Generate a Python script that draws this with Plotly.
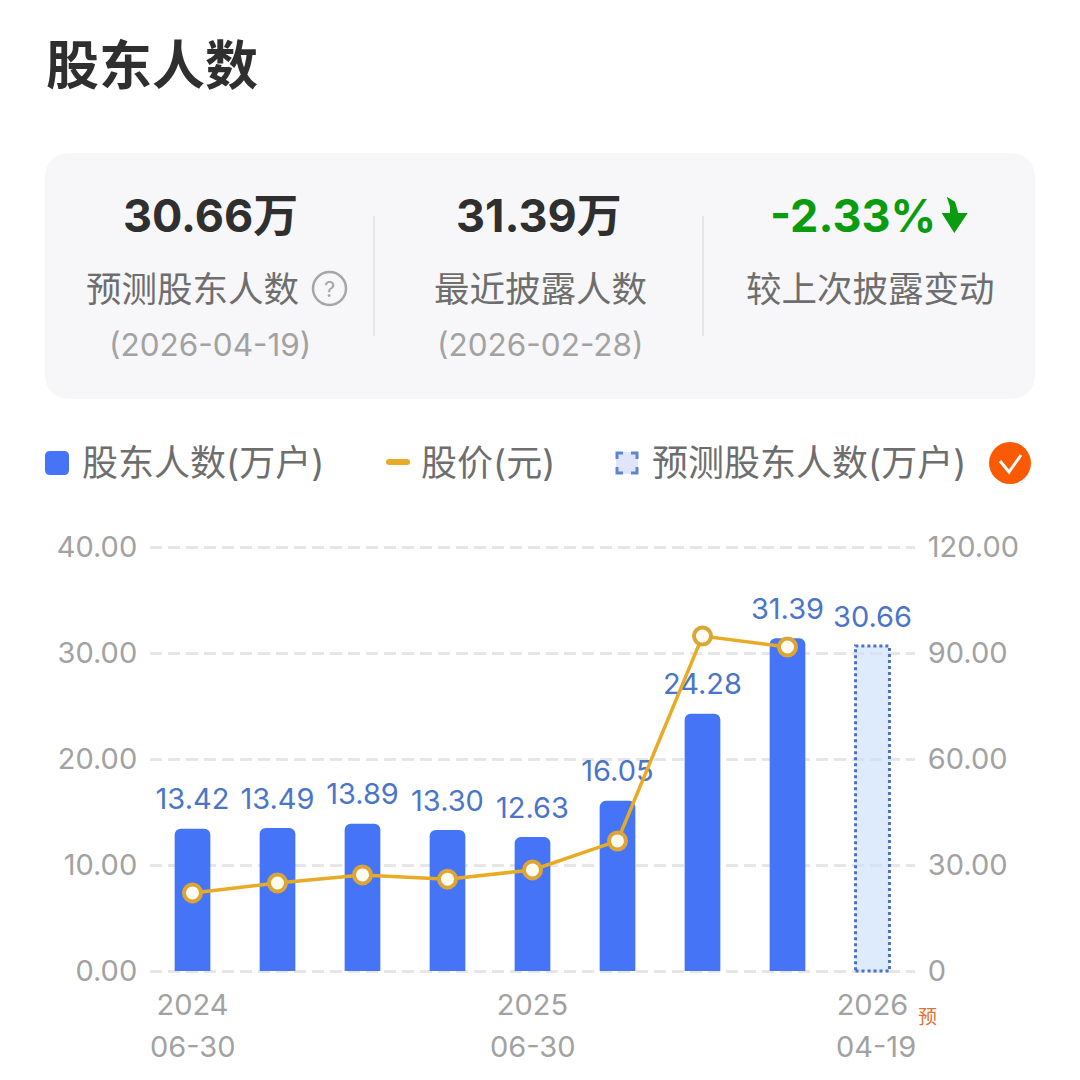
import plotly.graph_objects as go

# ---------- data ----------
dates = ["2024-06-30", "2024-09-30", "2024-12-31", "2025-03-31", "2025-06-30",
         "2025-09-30", "2025-12-31", "2026-02-28", "2026-04-19"]
holders = [13.42, 13.49, 13.89, 13.30, 12.63, 16.05, 24.28, 31.39]
forecast = [30.66]
price = [22.1, 24.9, 27.2, 26.0, 28.6, 36.8, 94.8, 91.7]
left_ticks = [0, 10, 20, 30, 40]
left_labels = ["0.00", "10.00", "20.00", "30.00", "40.00"]
right_ticks = [0, 30, 60, 90, 120]
right_labels = ["0", "30.00", "60.00", "90.00", "120.00"]
x_tick_idx = [0, 4, 8]
x_years = ["2024", "2025", "2026"]
x_days = ["06-30", "06-30", "04-19"]
title = "股东人数"
stat_values = ["30.66万", "31.39万", "-2.33%"]
stat_names = ["预测股东人数", "最近披露人数", "较上次披露变动"]
stat_dates = ["(2026-04-19)", "(2026-02-28)"]
legend_names = ["股东人数(万户)", "股价(元)", "预测股东人数(万户)"]

# ---------- styling ----------
W = H = 1080
FONT = "Inter, 'Noto Sans CJK SC', sans-serif"
BLUE, LABEL_BLUE, GOLD = "#4674f6", "#4a75c8", "#e8ab25"
GREY, DARK = "#a2a2a2", "#2f2f2f"
MID = "#6e6e6e"
BAR_W = 0.42
# small overscan so the gridlines at both range ends are still drawn
PAD_PX = 3
Y_TOP, Y_BOTTOM = 547, 971
L_MAX, R_MAX = 40, 120
l_pad = PAD_PX * L_MAX / (Y_BOTTOM - Y_TOP)
r_pad = PAD_PX * R_MAX / (Y_BOTTOM - Y_TOP)


def px(x):
    return x / W


def py(y):
    return 1 - y / H


def text(t, x, y, size, color, weight=400, anchor="center"):
    return dict(text=t, x=px(x), y=py(y), xref="paper", yref="paper", showarrow=False,
                xanchor=anchor, yanchor="middle",
                font=dict(family=FONT, size=size, color=color, weight=weight))


def rrect(x0, y0, x1, y1, r, fill):
    path = (f"M{px(x0+r)},{py(y0)} L{px(x1-r)},{py(y0)} Q{px(x1)},{py(y0)} {px(x1)},{py(y0+r)} "
            f"L{px(x1)},{py(y1-r)} Q{px(x1)},{py(y1)} {px(x1-r)},{py(y1)} "
            f"L{px(x0+r)},{py(y1)} Q{px(x0)},{py(y1)} {px(x0)},{py(y1-r)} "
            f"L{px(x0)},{py(y0+r)} Q{px(x0)},{py(y0)} {px(x0+r)},{py(y0)} Z")
    return dict(type="path", path=path, xref="paper", yref="paper", fillcolor=fill,
                line=dict(width=0), layer="below")


def vline(x, y0, y1, color="#e1e1e3", width=1.5):
    return dict(type="line", xref="paper", yref="paper", x0=px(x), x1=px(x), y0=py(y0), y1=py(y1),
                line=dict(color=color, width=width), layer="below")


def poly(points, color, width=0, fill=None, closed=False):
    d = "M" + " L".join(f"{px(a)},{py(b)}" for a, b in points) + (" Z" if closed else "")
    return dict(type="path", path=d, xref="paper", yref="paper",
                fillcolor=fill or "rgba(0,0,0,0)", line=dict(color=color, width=width))


fig = go.Figure()

fig.add_trace(go.Bar(name=legend_names[0], x=dates[:len(holders)], y=holders, width=BAR_W,
                     marker=dict(color=BLUE, cornerradius=6, line=dict(width=0)),
                     showlegend=False, hoverinfo="x+y"))
fig.add_trace(go.Bar(name=legend_names[2], x=dates[len(holders):], y=forecast, width=BAR_W * 0.95,
                     marker=dict(color="rgba(205,224,250,0.65)", cornerradius=5, line=dict(width=0)),
                     showlegend=False, hoverinfo="x+y"))
# value labels sit under the price line
all_values = holders + forecast
fig.add_trace(go.Scatter(x=dates, y=all_values, mode="markers+text", text=[f"{v:.2f}" for v in all_values],
                         textposition="top center", marker=dict(size=18, opacity=0),
                         textfont=dict(family=FONT, size=29, color=LABEL_BLUE),
                         showlegend=False, hoverinfo="skip", cliponaxis=False))
fig.add_trace(go.Scatter(name=legend_names[1], x=dates[:len(price)], y=price, yaxis="y2",
                         mode="lines+markers", line=dict(color=GOLD, width=3.5),
                         marker=dict(size=17, color="#fffdf2", line=dict(color="#dda536", width=4)),
                         showlegend=False, cliponaxis=False))

shapes = [
    rrect(45, 153, 1035, 399, 26, "#f7f7f9"),
    vline(374, 216, 336), vline(703, 216, 336),
    dict(type="circle", xref="paper", yref="paper", x0=px(313), x1=px(346), y0=py(305), y1=py(272),
         line=dict(color="#a6a6a6", width=2.5)),
    # green down arrow
    poly([(946.7, 196.7), (955, 201.7), (958.3, 213), (967.7, 213), (954.3, 233), (941.7, 213),
          (950, 213), (950, 206.7)], "#0a9c0f", 0, "#0a9c0f", True),
    # legend swatches
    rrect(45, 451, 69, 475, 5, BLUE),
    rrect(386, 459, 410, 465, 3, GOLD),
    rrect(616, 452, 638, 474, 1, "#dfe6fb"),
    poly([(623, 453), (617, 453), (617, 459)], "#5f83d6", 3),
    poly([(631, 453), (637, 453), (637, 459)], "#5f83d6", 3),
    poly([(617, 467), (617, 473), (623, 473)], "#5f83d6", 3),
    poly([(637, 467), (637, 473), (631, 473)], "#5f83d6", 3),
    # orange check badge
    dict(type="circle", xref="paper", yref="paper", x0=px(989), x1=px(1031), y0=py(484), y1=py(442),
         fillcolor="#fb5a05", line=dict(width=0)),
    poly([(1000, 461), (1009, 472), (1021, 455)], "#ffffff", 3),
    # dotted outline of the forecast bar, taken from its value
    dict(type="rect", xref="x", yref="y", x0=len(holders) - BAR_W * 0.95 / 2, x1=len(holders) + BAR_W * 0.95 / 2,
         y0=0, y1=forecast[0], line=dict(color="#4a70c8", width=3, dash="dot")),
]

annotations = [
    text(title, 44, 66, 53, DARK, 700, "left"),
    text(stat_values[0], 210, 216, 45, DARK, 700),
    text(stat_values[1], 539, 216, 45, DARK, 700),
    text(stat_values[2], 853, 216, 45, "#0a9c0f", 700),
    text(stat_names[0], 192, 289, 35.5, MID),
    text("?", 329.5, 289, 22, "#a6a6a6"),
    text(stat_names[1], 540, 289, 35.5, MID),
    text(stat_names[2], 870, 289, 35.5, MID),
    text(stat_dates[0], 210, 344, 31.5, GREY),
    text(stat_dates[1], 540, 344, 31.5, GREY),
    text(legend_names[0], 80, 463, 36, MID, 400, "left"),
    text(legend_names[1], 419, 463, 36, MID, 400, "left"),
    text(legend_names[2], 650, 463, 36, MID, 400, "left"),
    text("预", 927, 1017, 19, "#d9733a"),
]
for i, d in zip(x_tick_idx, x_days):
    annotations.append(dict(text=d, x=dates[i], xref="x", y=py(1046), yref="paper", showarrow=False,
                            xanchor="center", yanchor="middle", xshift=3 if i == 8 else 0,
                            font=dict(family=FONT, size=29, color=GREY)))

grid = dict(showgrid=True, gridcolor="#e6e6e8", gridwidth=3, griddash="12px,6px",
            zeroline=False, showline=False)
y_domain = [py(Y_BOTTOM + PAD_PX), py(Y_TOP - PAD_PX)]

fig.update_layout(
    width=W, height=H, margin=dict(l=0, r=0, t=0, b=0),
    paper_bgcolor="#ffffff", plot_bgcolor="#ffffff",
    barmode="overlay", showlegend=False, shapes=shapes, annotations=annotations,
    font=dict(family=FONT),
    xaxis=dict(domain=[px(150), px(915)], type="category", categoryorder="array", categoryarray=dates,
               range=[-0.5, 8.5], tickmode="array", tickvals=[dates[i] for i in x_tick_idx],
               ticktext=x_years, ticks="outside", ticklen=5, tickcolor="rgba(0,0,0,0)",
               tickangle=0, tickfont=dict(family=FONT, size=29, color=GREY), automargin=False,
               showgrid=False, zeroline=False, showline=False),
    yaxis=dict(domain=y_domain, range=[-l_pad, L_MAX + l_pad], tickmode="array", tickvals=left_ticks,
               ticktext=left_labels, ticks="outside", ticklen=6, tickcolor="rgba(0,0,0,0)", automargin=False,
               tickfont=dict(family=FONT, size=29, color=GREY), **grid),
    yaxis2=dict(domain=y_domain, range=[-r_pad, R_MAX + r_pad], overlaying="y", side="right", anchor="x",
                tickmode="array", tickvals=right_ticks, ticktext=right_labels,
                ticks="outside", ticklen=6, tickcolor="rgba(0,0,0,0)", automargin=False,
                tickfont=dict(family=FONT, size=29, color=GREY),
                showgrid=False, zeroline=False, showline=False),
)

fig.write_html("out.html", post_script="document.body.style.margin='0';",
               config={"displayModeBar": False})
